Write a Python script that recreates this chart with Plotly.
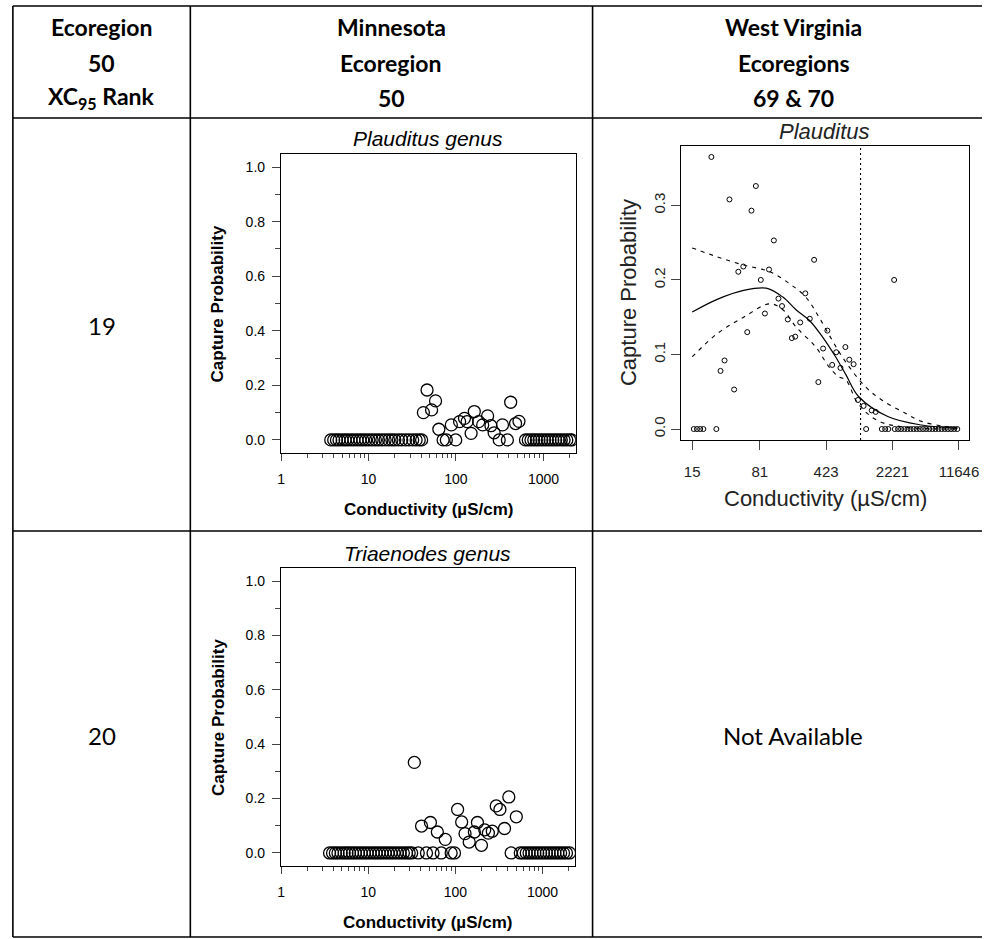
import plotly.graph_objects as go

W, H = 992, 939

# ---------------- Minnesota, Plauditus genus ----------------
mn1_zero_cond = [3.7, 4.0, 4.3, 4.6, 5.0, 5.4, 5.8, 6.3, 6.8, 7.4, 8.0, 8.6, 9.3, 10.1,
                 11, 12, 13, 14.2, 15.5, 17, 18.5, 20, 22, 24, 26.5, 29, 32, 35, 38, 40.5,
                 71.3, 77.6, 99.3, 312, 387,
                 623, 670, 720, 775, 830, 890, 960, 1030, 1110, 1190, 1280, 1380, 1480,
                 1600, 1720, 1850, 2000, 2100]
mn1_cond = [42.4, 46.7, 52.6, 58.4, 63.7, 88.5, 110, 125, 134, 149, 162, 182, 202,
            230, 251, 273, 340, 422, 480, 525]
mn1_prob = [0.100, 0.183, 0.110, 0.143, 0.039, 0.055, 0.067, 0.079, 0.067, 0.024, 0.104,
            0.067, 0.055, 0.088, 0.052, 0.026, 0.055, 0.138, 0.060, 0.068]

# ---------------- Minnesota, Triaenodes genus ----------------
mn2_zero_cond = [3.6, 3.9, 4.2, 4.5, 4.9, 5.3, 5.7, 6.1, 6.6, 7.1, 7.7, 8.3, 9.0, 9.7,
                 10.5, 11.4, 12.3, 13.3, 14.4, 15.6, 16.9, 18.3, 19.8, 21.5, 23.3, 25.3,
                 27.5, 29.5, 31.5,
                 37.5, 46.6, 55.4, 68.9, 89.4, 97.7, 436,
                 555, 600, 650, 700, 755, 815, 880, 950, 1025, 1105, 1190, 1285, 1385,
                 1495, 1610, 1740, 1880, 2040]
mn2_cond = [33.8, 40.9, 51.7, 62.1, 76.5, 106, 118, 129, 144, 165, 179, 199, 217,
            239, 265, 294, 324, 366, 410, 500]
mn2_prob = [0.333, 0.099, 0.112, 0.077, 0.050, 0.160, 0.114, 0.071, 0.040, 0.077, 0.112,
            0.028, 0.085, 0.073, 0.080, 0.173, 0.160, 0.090, 0.206, 0.133]

mn_xticks = [1, 10, 100, 1000]
mn_xminor = [2, 3, 4, 5, 6, 7, 8, 9, 20, 30, 40, 50, 60, 70, 80, 90,
             200, 300, 400, 500, 600, 700, 800, 900, 2000]
mn_yticks = [0.0, 0.2, 0.4, 0.6, 0.8, 1.0]
mn_yminor = [0.1, 0.3, 0.5, 0.7, 0.9]

# ---------------- West Virginia, Plauditus ----------------
wv_zero_cond = [15.6, 16.9, 18.3, 19.8, 27.4, 1150, 1700, 1850, 2000,
                2350, 2550, 2750, 2980, 3220, 3480, 3760, 4060, 4390, 4750, 5130,
                5550, 6000, 6480, 7000, 7570, 8180, 8840, 9560, 10330, 11170]
wv_cond = [24.2, 38, 73.4, 65.8, 115, 314, 47.4, 53.7, 102, 83, 2312, 252, 129, 141,
           92, 163, 222, 282, 59.2, 180, 196, 437, 393, 545, 685, 755, 841, 493, 606,
           33.6, 30.4, 42.7, 349, 938, 1079, 1322, 1459]
wv_prob = [0.365, 0.308, 0.326, 0.293, 0.253, 0.227, 0.211, 0.218, 0.214, 0.200, 0.200,
           0.182, 0.175, 0.165, 0.155, 0.147, 0.143, 0.148, 0.130, 0.122, 0.124, 0.132,
           0.108, 0.103, 0.110, 0.093, 0.087, 0.086, 0.082, 0.092, 0.078, 0.053, 0.063,
           0.039, 0.031, 0.025, 0.023]

fit_cond = [15, 28, 54, 95, 144, 200, 278, 385, 536, 700, 946, 2000, 4570, 11220]
fit_prob = [0.157, 0.174, 0.186, 0.189, 0.177, 0.160, 0.146, 0.124, 0.097, 0.072,
            0.044, 0.0165, 0.0054, 0.0013]
upper_cond = [15, 28, 54, 104, 170, 255, 355, 493, 690, 1130, 1700, 3030, 4570, 8130, 11220]
upper_prob = [0.243, 0.231, 0.220, 0.211, 0.195, 0.177, 0.150, 0.119, 0.090, 0.0567,
              0.0389, 0.0215, 0.0103, 0.0036, 0.0015]
lower_cond = [15, 28, 54, 104, 144, 200, 327, 455, 582, 692, 946, 1550, 3020, 11220]
lower_prob = [0.097, 0.128, 0.150, 0.168, 0.160, 0.137, 0.110, 0.0835, 0.070, 0.066,
              0.0335, 0.011, 0.0026, 0.0]
wv_xc95 = 1000
wv_xticks = [15, 81, 423, 2221, 11646]
wv_yticks = [0.0, 0.1, 0.2, 0.3]

# ---------------- table text ----------------
header_cells = [["Ecoregion", "50", "XC<sub>95</sub> Rank"],
                ["Minnesota", "Ecoregion", "50"],
                ["West Virginia", "Ecoregions", "69 & 70"]]
rank_labels = ["19", "20"]
missing_text = "Not Available"
mn_titles = ["Plauditus genus", "Triaenodes genus"]
wv_title = "Plauditus"
y_title = "Capture Probability"
x_title = "Conductivity (µS/cm)"


def px(x):
    return x / W


def py(y):
    return 1 - y / H


fig = go.Figure()

# Minnesota panels
for i, (zc, c, p) in enumerate([(mn1_zero_cond, mn1_cond, mn1_prob),
                                (mn2_zero_cond, mn2_cond, mn2_prob)]):
    ax = "" if i == 0 else "2"
    fig.add_trace(go.Scatter(
        x=zc + c, y=[0.0] * len(zc) + p, mode="markers",
        marker=dict(symbol="circle-open", size=12, color="black", line=dict(width=1.3)),
        xaxis="x" + ax, yaxis="y" + ax, showlegend=False, hoverinfo="skip"))

# West Virginia panel
fig.add_trace(go.Scatter(
    x=wv_zero_cond + wv_cond, y=[0.0] * len(wv_zero_cond) + wv_prob, mode="markers",
    marker=dict(symbol="circle-open", size=5, color="black", line=dict(width=1)),
    xaxis="x3", yaxis="y3", showlegend=False, hoverinfo="skip"))
fig.add_trace(go.Scatter(x=fit_cond, y=fit_prob, mode="lines",
                         line=dict(color="black", width=1.2, shape="spline"),
                         xaxis="x3", yaxis="y3", showlegend=False, hoverinfo="skip"))
for cc, pp in [(upper_cond, upper_prob), (lower_cond, lower_prob)]:
    fig.add_trace(go.Scatter(x=cc, y=pp, mode="lines",
                             line=dict(color="black", width=1.1, dash="4px,5px", shape="spline"),
                             xaxis="x3", yaxis="y3", showlegend=False, hoverinfo="skip"))

tick_font_mn = dict(family="Liberation Sans, Arial, sans-serif", size=14, color="black")
tick_font_wv = dict(family="Liberation Sans, Arial, sans-serif", size=15, color="#222")

mn_x = dict(type="log", range=[0, 3.37], tickmode="array", tickvals=mn_xticks,
            ticktext=[str(v) for v in mn_xticks], ticks="outside", ticklen=7, tickwidth=1.2,
            minor=dict(tickmode="array", tickvals=mn_xminor, ticks="outside", ticklen=4,
                       tickwidth=1),
            showline=True, mirror=True, linecolor="black", linewidth=1.3,
            showgrid=False, zeroline=False, tickfont=tick_font_mn, ticklabelstandoff=6)
mn_y = dict(range=[-0.048, 1.048], tickmode="array", tickvals=mn_yticks,
            ticktext=["%.1f" % v for v in mn_yticks], ticks="outside", ticklen=8, tickwidth=1.2,
            minor=dict(tickmode="array", tickvals=mn_yminor, ticks="outside", ticklen=5,
                       tickwidth=1),
            showline=True, mirror=True, linecolor="black", linewidth=1.3,
            showgrid=False, zeroline=False, tickfont=tick_font_mn, ticklabelstandoff=4)

# panel frames (pixel positions)
mn1_box = (281, 580, 154, 453)
mn2_box = (281, 579, 568, 866)
wv_box = (687, 979, 146, 440)


def dom(box):
    l, r, t, b = box
    return [px(l), px(r)], [py(b), py(t)]


d1x, d1y = dom(mn1_box)
d2x, d2y = dom(mn2_box)
d3x, d3y = dom(wv_box)

fig.update_layout(
    width=W, height=H, margin=dict(l=0, r=0, t=0, b=0),
    paper_bgcolor="white", plot_bgcolor="white",
    xaxis=dict(mn_x, domain=d1x, anchor="y"),
    yaxis=dict(mn_y, domain=d1y, anchor="x"),
    xaxis2=dict(mn_x, domain=d2x, anchor="y2"),
    yaxis2=dict(mn_y, domain=d2y, anchor="x2"),
    xaxis3=dict(type="log", range=[1.058, 4.177], tickmode="array", tickvals=wv_xticks,
                ticktext=[str(v) for v in wv_xticks], ticks="outside", ticklen=9,
                tickwidth=1.2, showline=True, mirror=True, linecolor="black", linewidth=1.2,
                showgrid=False, zeroline=False, tickfont=tick_font_wv, ticklabelstandoff=9,
                domain=d3x, anchor="y3"),
    yaxis3=dict(range=[-0.0147, 0.3797], tickmode="array", tickvals=wv_yticks,
                ticktext=["%.1f" % v for v in wv_yticks], ticks="outside", ticklen=9,
                tickwidth=1.2, tickangle=-90, showline=True, mirror=True, linecolor="black",
                linewidth=1.2, showgrid=False, zeroline=False, tickfont=tick_font_wv,
                ticklabelstandoff=0, domain=d3y, anchor="x3"),
)

# XC95 marker line in the West Virginia panel
fig.add_shape(type="line", xref="x3", yref="y3 domain", x0=wv_xc95, x1=wv_xc95, y0=0, y1=1,
              line=dict(color="black", width=1.1, dash="2px,3px"))

# table grid
grid = dict(color="black", width=1.6)
L, C1, C2, R = 9, 189, 597, 992
T, HB, R1, B = 6, 118, 531, 937
for (x0, y0, x1, y1) in [(L, T, R, T), (L, HB, R, HB), (L, R1, R, R1), (L, B, R, B),
                         (L, T, L, B), (C1, T, C1, B), (C2, T, C2, B)]:
    fig.add_shape(type="line", xref="paper", yref="paper",
                  x0=px(x0), y0=py(y0), x1=px(x1), y1=py(y1), line=grid)

ann = []
head_font = dict(family="Lato, Open Sans, sans-serif", size=23, color="black")
col_centers = [99, 393, 801]
line_y = [27, 63, 98]
for cx, cell in zip(col_centers, header_cells):
    for ly, txt in zip(line_y, cell):
        ann.append(dict(x=px(cx), y=py(ly), text="<b>%s</b>" % txt, font=head_font))

body_font = dict(family="Lato, Open Sans, sans-serif", size=24, color="black")
for ry, lab in zip([325, 735], rank_labels):
    ann.append(dict(x=px(99), y=py(ry), text=lab, font=body_font))
ann.append(dict(x=px(800), y=py(735), text=missing_text, font=body_font))

# Minnesota panel titles and axis titles
mn_title_font = dict(family="Liberation Sans, Arial, sans-serif", size=21, color="black")
mn_axis_font = dict(family="Liberation Sans, Arial, sans-serif", size=17, color="black")
for box, ttl in [(mn1_box, mn_titles[0]), (mn2_box, mn_titles[1])]:
    l, r, t, b = box
    cx = (l + r) / 2
    ann.append(dict(x=px(cx), y=py(t - 15), text="<i>%s</i>" % ttl, font=mn_title_font))
    ann.append(dict(x=px(cx), y=py(b + 56), text="<b>%s</b>" % x_title, font=mn_axis_font))
    ann.append(dict(x=px(217), y=py((t + b) / 2), text="<b>%s</b>" % y_title,
                    font=mn_axis_font, textangle=-90))

# West Virginia titles
wv_font = dict(family="Liberation Sans, Arial, sans-serif", size=22, color="#222")
l, r, t, b = wv_box
ann.append(dict(x=px((l + r) / 2 - 1), y=py(131), text="<i>%s</i>" % wv_title, font=wv_font))
ann.append(dict(x=px(833), y=py(498), text=x_title, font=wv_font))
ann.append(dict(x=px(633), y=py((t + b) / 2), text=y_title, font=wv_font, textangle=-90))

for a in ann:
    a.update(xref="paper", yref="paper", showarrow=False, xanchor="center", yanchor="middle")
fig.update_layout(annotations=ann)

fig.write_html("out.html")
